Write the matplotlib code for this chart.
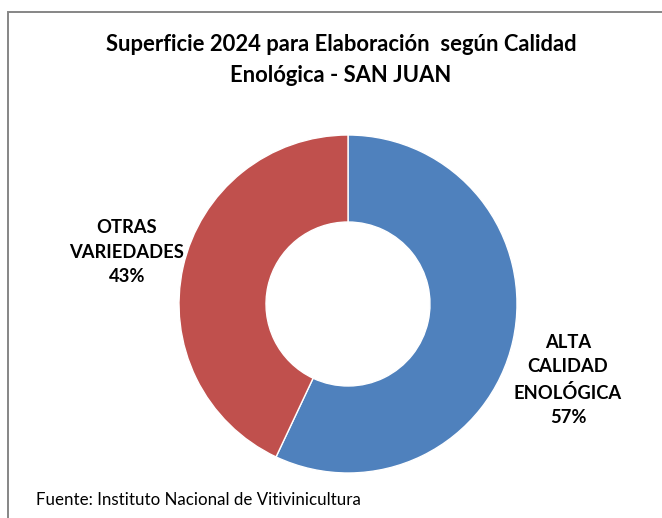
"""Superficie 2024 para elaboración según calidad enológica - San Juan"""
import matplotlib
matplotlib.use('Agg')
import matplotlib.pyplot as plt

plt.rcParams['font.family'] = ['Lato', 'DejaVu Sans']

categorias = ['ALTA\nCALIDAD\nENOLÓGICA', 'OTRAS\nVARIEDADES']
porcentajes = [57, 43]
colores = ['#4F81BD', '#C0504D']

W, H = 662, 518
fig = plt.figure(figsize=(W / 100, H / 100), dpi=100)
ax = fig.add_axes([0, 0, 1, 1])
ax.set_xlim(0, W)
ax.set_ylim(H, 0)
ax.axis('off')

# marco gris del gráfico (recortado a la derecha y abajo)
ax.plot([8, 8, W], [H, 12, 12], color='#868686', linewidth=1.4, solid_joinstyle='miter')

# donut en un eje propio con y hacia arriba
pax = fig.add_axes([0, 0, 1, 1])
pax.set_xlim(0, W)
pax.set_ylim(0, H)
pax.axis('off')
wedges, _ = pax.pie(porcentajes, colors=colores, startangle=90, counterclock=False,
                    center=(348, H - 304), radius=169,
                    wedgeprops=dict(width=169 - 82, edgecolor='white', linewidth=1))
pax.set_xlim(0, W)
pax.set_ylim(0, H)

ax.text(341, 60, 'Superficie 2024 para Elaboración  según Calidad\nEnológica - SAN JUAN',
        ha='center', va='center', fontsize=15.8, fontweight='bold', linespacing=1.55)

etiquetas_pos = [(568, 380), (127, 252)]
for cat, pct, (x, y) in zip(categorias, porcentajes, etiquetas_pos):
    ax.text(x, y, f'{cat}\n{pct}%', ha='center', va='center', fontsize=13.2,
            fontweight='bold', linespacing=1.55)

ax.text(36, 500, 'Fuente: Instituto Nacional de Vitivinicultura', ha='left', va='center',
        fontsize=12.2)

fig.savefig('out.png', dpi=100)
